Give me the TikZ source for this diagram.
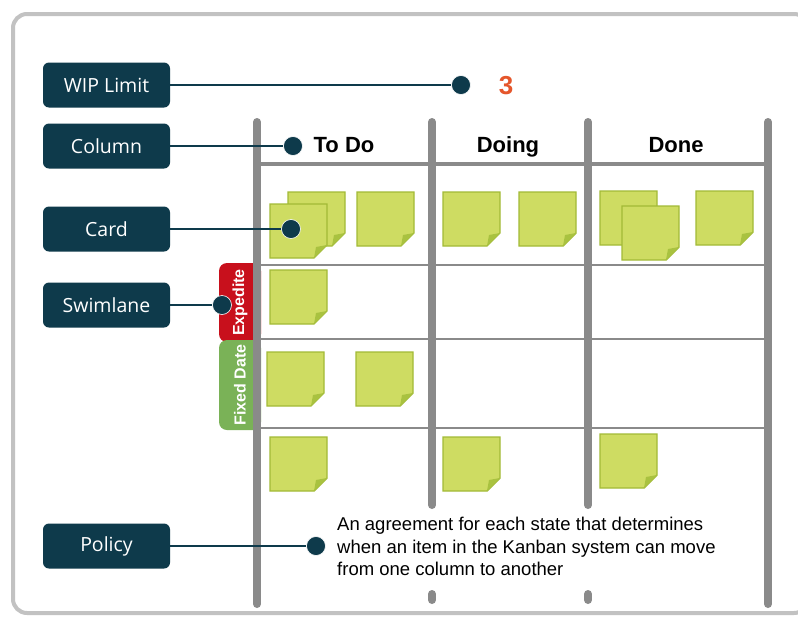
\documentclass[tikz,border=0pt]{standalone}
\usepackage{fontspec}
\setmainfont{Liberation Sans}
\newfontfamily\boxfont{Open Sans}
\definecolor{boxblue}{HTML}{0E3A4B}
\definecolor{boardgray}{HTML}{8A8A8A}
\definecolor{framegray}{HTML}{C2C2C2}
\definecolor{cardfill}{HTML}{CEDC62}
\definecolor{cardedge}{HTML}{A2BA36}
\definecolor{cardfold}{HTML}{A9C240}
\definecolor{limitred}{HTML}{E5562B}
\definecolor{tabred}{HTML}{C8101C}
\definecolor{tabgreen}{HTML}{7AB257}
\tikzset{
  termbox/.style={rectangle, rounded corners=6pt, fill=boxblue, text=white,
    minimum width=127pt, minimum height=45pt, inner sep=0pt,
    font=\boxfont\fontsize{19.5}{22}\selectfont},
  dot/.style={circle, fill=boxblue, draw=white, line width=0.6pt,
    minimum size=19pt, inner sep=0pt},
  link/.style={draw=boxblue, line width=2.6pt},
  rail/.style={draw=boardgray, line width=8pt, line cap=round},
  lane/.style={draw=boardgray, line width=2.6pt},
  head/.style={anchor=base, font=\bfseries\fontsize{22}{25}\selectfont},
  tab/.style={rectangle, rounded corners=8pt, rotate=90, text=white,
    minimum height=42pt, inner sep=0pt,
    font=\bfseries\fontsize{16}{18}\selectfont},
  sticky/.pic={
    \filldraw[fill=cardfill, draw=cardedge, line width=1.4pt]
      (0,0) -- (57,0) -- (57,41) -- (44,54) -- (0,54) -- cycle;
    \fill[cardfold] (57,41) -- (44,54) -- (46,43) -- cycle;
  }
}
\begin{document}
\begin{tikzpicture}[x=1pt, y=-1pt]
  \useasboundingbox (0,0) rectangle (798,616);
  \fill[white] (0,0) rectangle (798,616);
  \draw[framegray, line width=4pt, rounded corners=14pt] (13,14) rectangle (808,613);

  \node[tab, fill=tabred, minimum width=79pt] (expedite) at (240,302.5) {Expedite};
  \node[tab, fill=tabgreen, minimum width=90pt] (fixed) at (240,385) {Fixed Date};

  \draw[lane, line width=4pt] (257,164) -- (768,164);
  \foreach \y in {265,339,428}
    \draw[lane] (257,\y) -- (768,\y);
  \draw[rail] (257,122) -- (257,604);
  \draw[rail] (432,122) -- (432,505);
  \draw[rail] (588,122) -- (588,505);
  \draw[rail] (768,122) -- (768,604);
  \draw[rail] (432,594) -- (432,600);
  \draw[rail] (588,594) -- (588,600);

  \node[head] (todo) at (344,152) {To Do};
  \node[head] (doing) at (508,152) {Doing};
  \node[head] (done) at (676,152) {Done};

  \foreach \x/\y in {288/192, 270/204, 357/192, 443/192, 519/192,
      600/191, 622/206, 696/191, 270/270, 267/352, 356/352,
      270/437, 443/437, 600/434}
    \pic at (\x,\y) {sticky};

  \node[termbox] (wip) at (106.5,85) {WIP Limit};
  \node[termbox] (column) at (106.5,146) {Column};
  \node[termbox] (card) at (106.5,229) {Card};
  \node[termbox] (swimlane) at (106.5,305) {Swimlane};
  \node[termbox] (policy) at (106.5,546) {Policy};

  \node[dot] (wipdot) at (461,85) {};
  \node[dot] (columndot) at (293,146) {};
  \node[dot] (carddot) at (291,229) {};
  \node[dot] (swimlanedot) at (222,305) {};
  \node[dot] (policydot) at (316,546) {};

  \node[text=limitred, font=\bfseries\fontsize{26}{28}\selectfont] (limit) at (506,86) {3};
  \node[anchor=north west, align=left, inner sep=0pt,
    font=\fontsize{18.5}{22.5}\selectfont] (policytext) at (337,517)
    {An agreement for each state that determines\\
     when an item in the Kanban system can move\\
     from one column to another};

  \begin{scope}[link]
    \draw (wip) -- (wipdot);
    \draw (column) -- (columndot);
    \draw (card) -- (carddot);
    \draw (swimlane) -- (swimlanedot);
    \draw (policy) -- (policydot);
  \end{scope}
\end{tikzpicture}
\end{document}
